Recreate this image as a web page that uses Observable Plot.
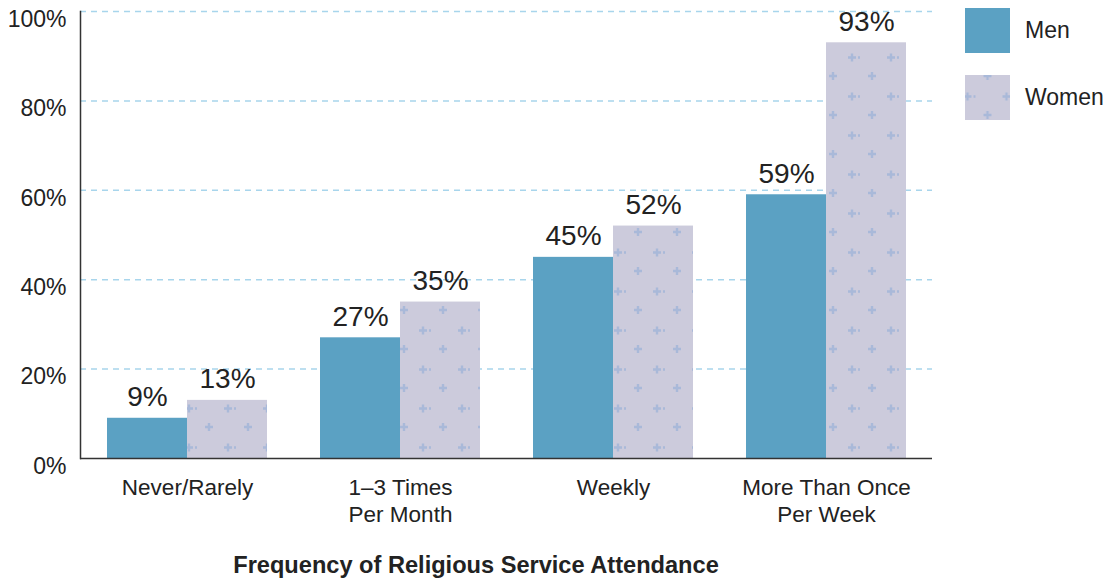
<!DOCTYPE html>
<html>
<head>
<meta charset="utf-8">
<script src="https://cdn.jsdelivr.net/npm/d3@7"></script>
<script src="https://cdn.jsdelivr.net/npm/@observablehq/plot@0.6"></script>
<style>
  body { margin: 0; background: #fff; font-family: "Liberation Sans", Arial, sans-serif; }
  #wrap { position: relative; width: 1109px; height: 582px; }
  #legend { position: absolute; left: 965px; top: 8px; }
  .item { display: flex; align-items: center; height: 45px; margin-bottom: 22px; }
  .item svg { display: block; }
  .item span { margin-left: 15px; font-size: 23px; color: #222; }
  #title { position: absolute; top: 552px; left: 0; width: 952px; text-align: center; font-weight: bold; font-size: 23.6px; color: #222; }
</style>
</head>
<body>
<div id="wrap">
  <div id="chart"></div>
  <div id="legend"></div>
  <div id="title">Frequency of Religious Service Attendance</div>
</div>
<script>
const categories = ["Never/Rarely", "1–3 Times Per Month", "Weekly", "More Than Once Per Week"];
const tickLabels = ["Never/Rarely", "1–3 Times\nPer Month", "Weekly", "More Than Once\nPer Week"];
const men = [9, 27, 45, 59];
const women = [13, 35, 52, 93];
const yTicks = [0, 20, 40, 60, 80, 100];
const seriesNames = ["Men", "Women"];

const menColor = "#5ba1c3";
const womenColor = "#cccbdc";
const plusColor = "#a9b9d9";

const rows = categories.map((c, i) => ({category: c, men: men[i], women: women[i]}));
const labelOf = new Map(categories.map((c, i) => [c, tickLabels[i]]));

const plot = Plot.plot({
  width: 952,
  height: 540,
  marginLeft: 80,
  marginRight: 20,
  marginTop: 11,
  marginBottom: 82,
  style: {fontFamily: "Liberation Sans, Arial, sans-serif", color: "#222", background: "#fff"},
  x: {type: "band", domain: categories, paddingInner: 0.25, paddingOuter: 0.125},
  y: {domain: [0, 100]},
  marks: [
    Plot.gridY(yTicks.filter(d => d > 0), {stroke: "#a8d5ec", strokeOpacity: 1, strokeWidth: 1.5, strokeDasharray: "6,5"}),
    Plot.barY(rows, {x: "category", y: "men", fill: menColor, insetRight: 80}),
    Plot.barY(rows, {x: "category", y: "women", fill: "url(#womenPattern)", insetLeft: 80}),
    Plot.text(rows, {x: "category", y: "men", text: d => d.men + "%", dx: -40, dy: -12, lineAnchor: "bottom", fontSize: 28, fill: "#222"}),
    Plot.text(rows, {x: "category", y: "women", text: d => d.women + "%", dx: 40, dy: -12, lineAnchor: "bottom", fontSize: 28, fill: "#222"}),
    Plot.axisY({ticks: yTicks, tickFormat: d => d + "%", tickSize: 0, tickPadding: 14, dy: 8, fontSize: 23, label: null}),
    Plot.axisX({tickSize: 0, tickPadding: 17, tickFormat: d => labelOf.get(d), fontSize: 22.5, lineHeight: 1.2, label: null}),
    Plot.ruleY([0], {stroke: "#333", strokeWidth: 1.5}),
    Plot.frame({anchor: "left", stroke: "#333", strokeWidth: 1.5})
  ]
});

function patternDef(id, transform) {
  return `<pattern id="${id}" patternUnits="userSpaceOnUse" width="39" height="39"${transform ? ` patternTransform="${transform}"` : ""}>
    <rect x="-1" y="-1" width="41" height="41" fill="${womenColor}"/>
    <path d="M33,14.5v8M29,18.5h8 M14,33v8M10,37h8 M14,-6v8M10,-2h8 M-6,18.5h8" stroke="${plusColor}" stroke-width="2.4"/>
  </pattern>`;
}

const defs = document.createElementNS("http://www.w3.org/2000/svg", "defs");
defs.innerHTML = patternDef("womenPattern");
plot.insertBefore(defs, plot.firstChild);
document.getElementById("chart").appendChild(plot);

const legend = document.getElementById("legend");
seriesNames.forEach((name, i) => {
  const fill = i === 0 ? menColor : "url(#legendPattern)";
  const extra = i === 1 ? `<defs>${patternDef("legendPattern", "translate(8.5,3)")}</defs>` : "";
  legend.insertAdjacentHTML("beforeend",
    `<div class="item"><svg width="45" height="45">${extra}<rect width="45" height="45" fill="${fill}"/></svg><span>${name}</span></div>`);
});
</script>
</body>
</html>
